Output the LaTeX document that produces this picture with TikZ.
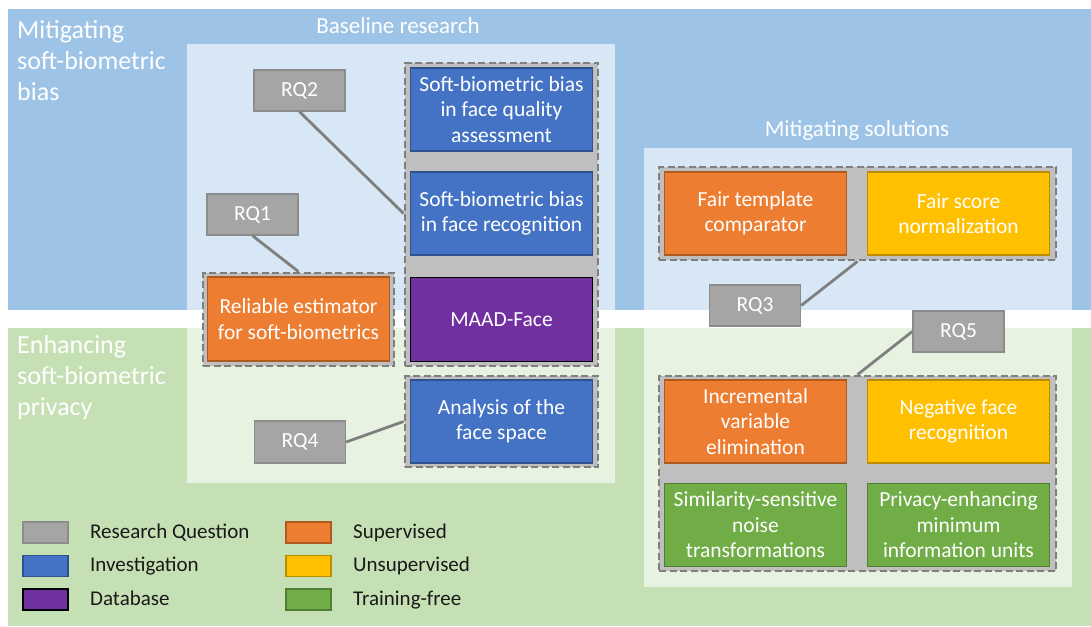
\documentclass[tikz,border=0pt]{standalone}
\usepackage{fontspec}
\setmainfont{Carlito}
\definecolor{bandblue}{HTML}{9DC3E6}
\definecolor{bandgreen}{HTML}{C5E0B4}
\definecolor{rqgray}{HTML}{A5A5A5}
\definecolor{rqedge}{HTML}{8C8C8C}
\definecolor{invblue}{HTML}{4472C4}
\definecolor{invedge}{HTML}{2F528F}
\definecolor{dbpurple}{HTML}{7030A0}
\definecolor{suporange}{HTML}{ED7D31}
\definecolor{supedge}{HTML}{AE5A21}
\definecolor{unsyellow}{HTML}{FFC000}
\definecolor{unsedge}{HTML}{BC8C00}
\definecolor{freegreen}{HTML}{70AD47}
\definecolor{freeedge}{HTML}{507E32}
\definecolor{groupfill}{HTML}{BFBFBF}
\definecolor{groupedge}{HTML}{7F7F7F}
\definecolor{linkgray}{HTML}{7F7F7F}
\tikzset{
  boxtext/.style={font=\fontsize{21.5}{25.5}\selectfont, text=white, align=center, inner sep=0pt},
  item/.style={boxtext, draw, line width=1.4pt, minimum width=182pt, minimum height=83pt},
  rq/.style={boxtext, fill=rqgray, draw=rqedge, line width=1.4pt, minimum width=91pt, minimum height=41pt},
  invest/.style={item, fill=invblue, draw=invedge},
  dbase/.style={item, fill=dbpurple, draw=black},
  superv/.style={item, fill=suporange, draw=supedge},
  unsuperv/.style={item, fill=unsyellow, draw=unsedge},
  trainfree/.style={item, fill=freegreen, draw=freeedge},
  group/.style={fill=groupfill, draw=groupedge, line width=2.8pt, dash pattern=on 7pt off 3.5pt, inner sep=0pt},
  link/.style={draw=linkgray, line width=2.8pt},
  area/.style={fill=white, fill opacity=0.6},
  title/.style={font=\fontsize{26}{31}\selectfont, text=white, align=left, inner sep=0pt, anchor=west},
  subtitle/.style={font=\fontsize{23}{28}\selectfont, text=white, inner sep=0pt},
  legbox/.style={draw, line width=1.2pt, minimum width=45pt, minimum height=21pt, inner sep=0pt},
  legtext/.style={font=\fontsize{21}{25}\selectfont, text=black!90, anchor=west, inner sep=0pt, text height=15pt, text depth=5pt},
}
\begin{document}
\begin{tikzpicture}[x=1pt, y=-1pt]
\useasboundingbox (0,0) rectangle (1091,626);
% background bands
\fill[bandblue] (8,9) rectangle (1091,310);
\fill[bandgreen] (8,328) rectangle (1091,626);
% light working areas
\fill[area] (187,44) rectangle (615,483);
\fill[area] (644,148) rectangle (1072,587);
% titles
\node[title] (t1) at (17,61) {Mitigating\\soft-biometric\\bias};
\node[title] (t2) at (17,378) {Enhancing\\soft-biometric\\privacy};
\node[subtitle] (s1) at (398,26) {Baseline research};
\node[subtitle] (s2) at (857,130) {Mitigating solutions};
% dashed groups
\node[group, minimum width=193pt, minimum height=303pt] (g1) at (501.5,214.5) {};
\node[group, minimum width=193pt, minimum height=91pt] (g4) at (501.5,421.5) {};
\node[group, minimum width=191pt, minimum height=93pt] (g3) at (298.5,319.5) {};
\node[group, minimum width=397pt, minimum height=93pt] (g5) at (857.5,213.5) {};
\node[group, minimum width=397pt, minimum height=195pt] (g6) at (857.5,473.5) {};
% baseline research items
\node[invest] (b1) at (501.5,109.5) {Soft-biometric bias\\in face quality\\assessment};
\node[invest] (b2) at (501.5,213.5) {Soft-biometric bias\\in face recognition};
\node[dbase, minimum height=84pt] (b3) at (501.5,319.5) {MAAD-Face};
\node[invest] (b4) at (501.5,421.5) {Analysis of the\\face space};
\node[superv, minimum height=84pt] (b5) at (298.5,319) {Reliable estimator\\for soft-biometrics};
% mitigating solutions
\node[superv] (m1) at (755.5,213.5) {Fair template\\comparator};
\node[unsuperv] (m2) at (958.5,213.5) {Fair score\\normalization};
\node[superv] (m3) at (755.5,421.5) {Incremental\\variable\\elimination};
\node[unsuperv] (m4) at (958.5,421.5) {Negative face\\recognition};
\node[trainfree] (m5) at (755.5,525) {Similarity-sensitive\\noise\\transformations};
\node[trainfree] (m6) at (958.5,525) {Privacy-enhancing\\minimum\\information units};
% research questions
\node[rq] (rq1) at (252.5,214.5) {RQ1};
\node[rq] (rq2) at (299.5,90.5) {RQ2};
\node[rq] (rq3) at (755,305.5) {RQ3};
\node[rq, minimum height=42pt] (rq4) at (300,442) {RQ4};
\node[rq] (rq5) at (958.5,331.5) {RQ5};
% links
\draw[link] (rq2.south) -- (g1.west |- b2.center);
\draw[link] (rq1.south) -- (g3.north);
\draw[link] (rq4.east) -- (g4.west);
\draw[link] (rq3.east) -- (g5.south);
\draw[link] (rq5.west) -- (g6.north);
% legend
\node[legbox, fill=rqgray, draw=rqedge] (l1) at (45.5,532.5) {};
\node[legbox, fill=invblue, draw=invedge] (l2) at (45.5,566) {};
\node[legbox, fill=dbpurple, draw=black] (l3) at (45.5,599.5) {};
\node[legbox, fill=suporange, draw=supedge] (l4) at (308.5,532.5) {};
\node[legbox, fill=unsyellow, draw=unsedge] (l5) at (308.5,566) {};
\node[legbox, fill=freegreen, draw=freeedge] (l6) at (308.5,599.5) {};
\node[legtext] (lt1) at (90,533) {Research Question};
\node[legtext] (lt2) at (90,566.5) {Investigation};
\node[legtext] (lt3) at (90,600) {Database};
\node[legtext] (lt4) at (353,533) {Supervised};
\node[legtext] (lt5) at (353,566.5) {Unsupervised};
\node[legtext] (lt6) at (353,600) {Training-free};
\end{tikzpicture}
\end{document}
